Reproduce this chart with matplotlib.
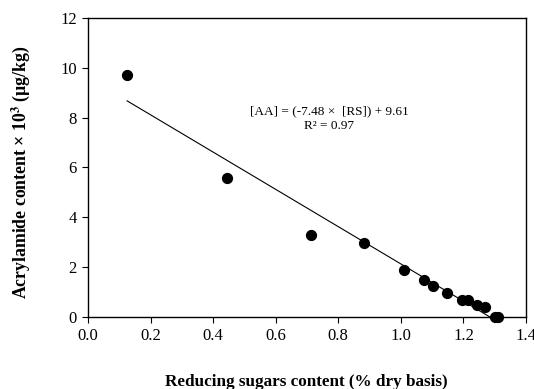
import numpy as np
import matplotlib
matplotlib.use("Agg")
import matplotlib.pyplot as plt

plt.rcParams['font.family'] = ['Liberation Serif', 'DejaVu Serif']
plt.rcParams['mathtext.fontset'] = 'stix'

# reducing sugars (% dry basis) vs acrylamide (x 10^3 ug/kg)
rs = [0.125, 0.445, 0.712, 0.881, 1.009, 1.074, 1.103, 1.146, 1.196, 1.214, 1.242, 1.269, 1.300, 1.310]
aa = [9.71, 5.59, 3.29, 2.98, 1.89, 1.49, 1.26, 0.98, 0.68, 0.68, 0.49, 0.40, 0.01, 0.0]

slope = -7.48
intercept = 9.61
fit_x = [0.125, -intercept / slope]

fig = plt.figure(figsize=(5.34, 3.89), dpi=100)
ax = fig.add_axes([88 / 534, 1 - 317 / 389, 438 / 534, 299 / 389])

xs = np.array(fit_x)
ax.plot(xs, intercept + slope * xs, color='black', lw=0.8, zorder=2)
ax.scatter(rs, aa, s=50, color='black', zorder=3, clip_on=False)

ax.set_xlim(0, 1.4)
ax.set_ylim(0, 12)
ax.set_xticks(np.arange(0, 1.41, 0.2))
ax.set_xticklabels(['%.1f' % v for v in np.arange(0, 1.41, 0.2)])
ax.set_yticks(range(0, 13, 2))
ax.tick_params(labelsize=12, length=4, width=0.8, direction='out', pad=4)
for s in ax.spines.values():
    s.set_linewidth(1.0)

ax.text(0.77, 8.25, '[AA] = (-7.48 \u00d7  [RS]) + 9.61', ha='center', va='center', fontsize=9.5)
ax.text(0.77, 7.67, 'R\u00b2 = 0.97', ha='center', va='center', fontsize=9.5)

fig.text(306 / 534, 1 - 382 / 389, 'Reducing sugars content (% dry basis)',
         ha='center', va='center', fontsize=12.3, fontweight='bold')
fig.text(21 / 534, 1 - 172 / 389, 'Acrylamide content \u00d7 10$^{\\mathbf{3}}$ (\u00b5g/kg)',
         ha='center', va='center', rotation=90, fontsize=12.8, fontweight='bold')

fig.savefig('out.png', dpi=100)
